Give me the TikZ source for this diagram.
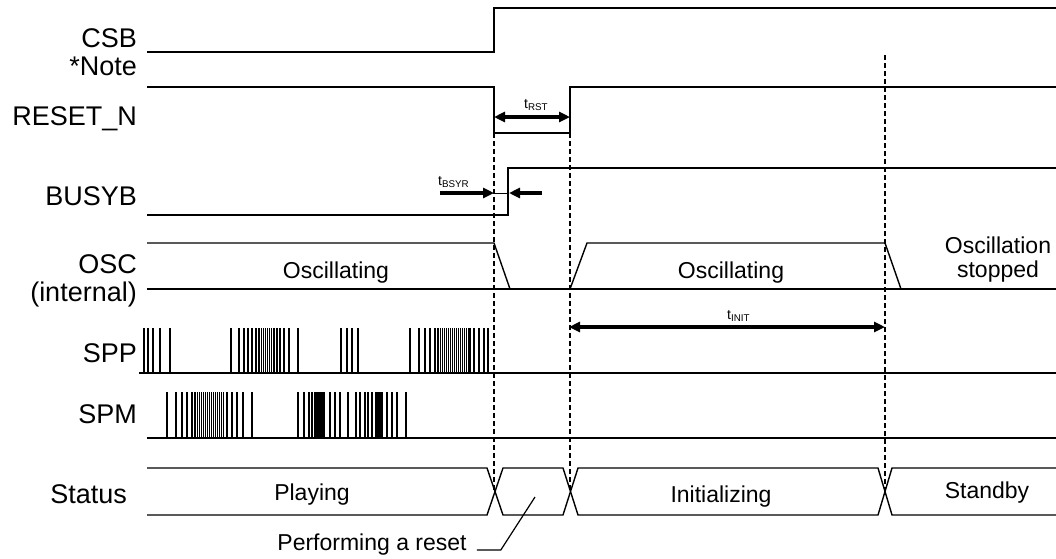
\documentclass[tikz,border=0pt]{standalone}
\usepackage{fontspec}
\setmainfont{Liberation Sans}
\usetikzlibrary{arrows.meta,positioning}

\tikzset{
  sig/.style={line width=1.4pt},
  guide/.style={line width=1.5pt, dash pattern=on 5pt off 3pt},
  pulse/.style={line width=1.3pt},
  dense/.style={line width=0.8pt},
  tip/.tip={Triangle[length=11pt,width=10pt]},
  timing/.style={line width=3.2pt},
  siglabel/.style={anchor=base east, inner sep=0pt, font=\fontsize{27}{29}\selectfont},
  statetext/.style={anchor=base, inner sep=0pt, align=center, font=\fontsize{23}{24}\selectfont},
  tlabel/.style={anchor=base west, inner sep=0pt, font=\fontsize{14}{15}\selectfont},
}

\begin{document}
\begin{tikzpicture}[x=1pt, y=-1pt]

    \useasboundingbox (0,0) rectangle (1056,558);

    % Instants des fronts
    \def\xA{494}   % CSB monte, RESET_N descend
    \def\xB{570}   % RESET_N remonte
    \def\xC{885}   % fin de l'initialisation
    \def\xR{1056}

    % =========================================================================
    % NOMS DES SIGNAUX
    % =========================================================================
    \node[siglabel] (csb)    at (137,47)  {CSB};
    \node[siglabel] (note)   at (137,75)  {*Note};
    \node[siglabel] (rstn)   at (137,125) {RESET\_N};
    \node[siglabel] (busyb)  at (137,205) {BUSYB};
    \node[siglabel] (osc)    at (137,273) {OSC};
    \node[siglabel] (oscint) at (137,301) {(internal)};
    \node[siglabel] (spp)    at (137,362) {SPP};
    \node[siglabel] (spm)    at (137,423) {SPM};
    \node[siglabel] (status) at (127,503) {Status};

    % =========================================================================
    % CSB, RESET_N, BUSYB
    % =========================================================================
    \draw[sig] (147,52) -- (\xA,52) -- (\xA,8) -- (\xR,8);
    \draw[sig] (147,87) -- (\xA,87) -- (\xA,133) -- (\xB,133) -- (\xB,87) -- (\xR,87);
    \draw[sig] (147,215) -- (508,215) -- (508,168) -- (\xR,168);

    % =========================================================================
    % OSC (interne)
    % =========================================================================
    \draw[sig] (147,243) -- (\xA,243) -- (510,289);
    \draw[sig] (147,289) -- (\xR,289);
    \draw[sig] (\xB,289) -- (587,243) -- (\xC,243) -- (901,289);

    \node[statetext] (osc1) at (336,278) {Oscillating};
    \node[statetext] (osc2) at (731,278) {Oscillating};
    \node[statetext] (oscstop) at (998,277) {Oscillation\\stopped};

    % =========================================================================
    % SPP / SPM
    % =========================================================================
    \draw[sig] (139,373) -- (\xR,373);
    \foreach \x in {144,148,153,160,170,
                    231,239,244,248,252,256,259,274,277,280,284,289,298,
                    341,347,352,358,
                    410,419,425,430,435,438,470,474,479,484,488}
        \draw[pulse] (\x,373) -- (\x,328);
    \foreach \x in {261,263,...,271, 440,442,...,468}
        \draw[dense] (\x,373) -- (\x,328);

    \draw[sig] (147,438) -- (\xR,438);
    \foreach \x in {167,176,182,187,192,195,227,232,237,243,252,
                    298,304,309,312,315,330,335,340,348,356,360,365,368,372,
                    387,392,397,406}
        \draw[pulse] (\x,438) -- (\x,392);
    \foreach \x in {197,199,...,223}
        \draw[dense] (\x,438) -- (\x,392);
    \foreach \x in {317,318.5,...,325, 376,377.5,...,383}
        \draw[pulse] (\x,438) -- (\x,392);

    % =========================================================================
    % STATUS
    % =========================================================================
    \draw[sig] (147,468) -- (487,468) -- (503,515) -- (563,515) -- (578,468)
        -- (878,468) -- (892,515) -- (\xR,515);
    \draw[sig] (147,515) -- (487,515) -- (503,468) -- (563,468) -- (578,515)
        -- (878,515) -- (892,468) -- (\xR,468);

    \node[statetext] (play)  at (312,500) {Playing};
    \node[statetext] (init)  at (721,502) {Initializing};
    \node[statetext] (stby)  at (987,498) {Standby};
    \node[statetext] (perf)  at (372,550) {Performing a reset};

    \coordinate (leadtip) at (535,497);
    \draw[line width=1.2pt] ([xshift=10pt]perf.base east) -- ++(24,0) -- (leadtip);

    % =========================================================================
    % REPERES EN POINTILLES
    % =========================================================================
    \draw[guide] (\xA,133) -- (\xA,491);
    \draw[guide] (\xB,133) -- (\xB,491);
    \draw[guide] (\xC,55)  -- (\xC,491);

    % =========================================================================
    % TEMPS
    % =========================================================================
    \coordinate (rstL) at (\xA,117);
    \coordinate (rstR) at (\xB,117);
    \draw[timing, tip-tip] (rstL) -- (rstR);
    \node[tlabel] (trst) at (524,108) {t\textsubscript{RST}};

    \coordinate (bsyA) at (440,193);
    \coordinate (bsyB) at (\xA,193);
    \coordinate (bsyC) at (542,193);
    \coordinate (bsyD) at (509,193);
    \draw[timing, -tip] (bsyA) -- (bsyB);
    \draw[timing, -tip] (bsyC) -- (bsyD);
    \draw[line width=0.8pt] (bsyB) -- (bsyD);
    \node[tlabel] (tbsyr) at (438,185) {t\textsubscript{BSYR}};

    \coordinate (initL) at (569,327);
    \coordinate (initR) at (\xC,327);
    \draw[timing, tip-tip] (initL) -- (initR);
    \node[tlabel] (tinit) at (727,319) {t\textsubscript{INIT}};

\end{tikzpicture}
\end{document}
